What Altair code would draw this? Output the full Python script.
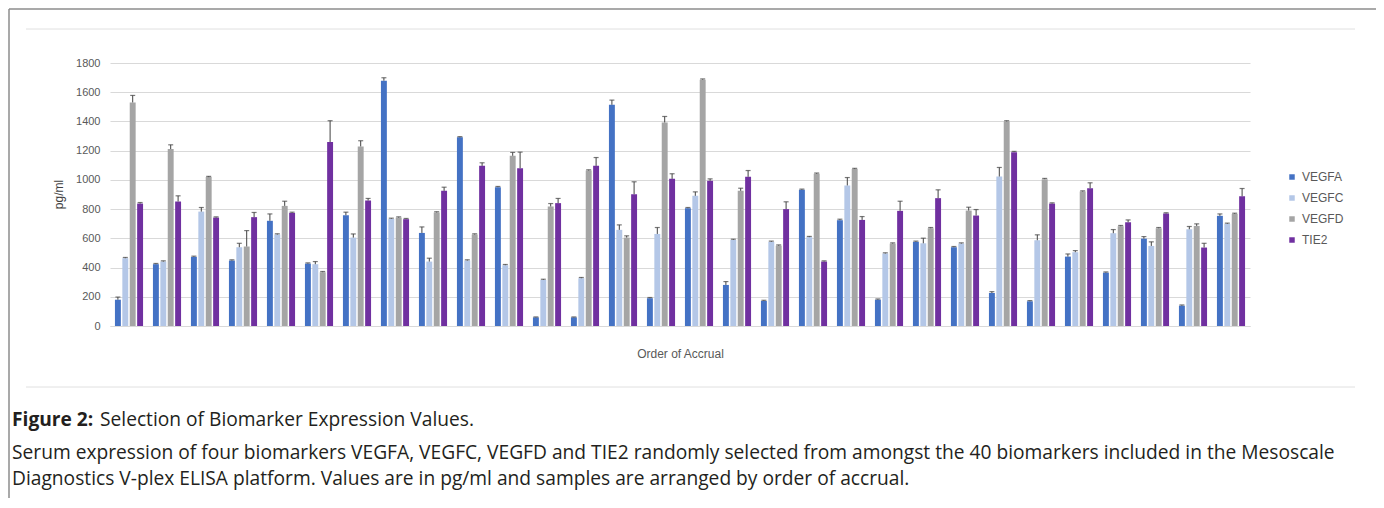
import altair as alt
import pandas as pd

samples = list(range(1, 31))
markers = ["VEGFA", "VEGFC", "VEGFD", "TIE2"]
colors = ["#4472C4", "#B4C7E7", "#A5A5A5", "#7030A0"]

vegfa = [180, 423, 473, 448, 720, 427, 758, 1679, 637, 1291, 950, 59, 59, 1514, 190,
         806, 281, 171, 932, 724, 180, 576, 539, 226, 169, 475, 365, 598, 139, 754]
vegfc = [464, 441, 783, 539, 626, 423, 605, 733, 441, 448, 416, 315, 327, 658, 630,
         891, 589, 576, 608, 962, 496, 566, 564, 1023, 587, 505, 635, 548, 662, 699]
vegfd = [1530, 1211, 1019, 544, 822, 368, 1229, 742, 777, 626, 1165, 818, 1064, 605, 1393,
         1686, 925, 550, 1042, 1074, 564, 669, 790, 1400, 1005, 920, 683, 669, 685, 767]
tie2 = [838, 852, 742, 745, 774, 1259, 859, 731, 925, 1096, 1080, 841, 1096, 902, 1007,
        994, 1021, 800, 441, 726, 788, 875, 756, 1190, 838, 943, 710, 770, 537, 888]

err_vegfa = [18, 5, 5, 5, 47, 5, 21, 20, 41, 5, 5, 3, 3, 32, 5,
             5, 23, 5, 5, 7, 5, 5, 5, 9, 5, 18, 5, 14, 5, 13]
err_vegfc = [5, 5, 28, 27, 5, 18, 25, 5, 23, 5, 5, 5, 5, 34, 44,
             27, 5, 5, 5, 54, 5, 35, 5, 62, 37, 11, 25, 28, 19, 5]
err_vegfd = [48, 29, 5, 109, 32, 5, 39, 5, 5, 5, 23, 20, 5, 12, 41,
             5, 18, 5, 5, 5, 5, 5, 23, 5, 5, 5, 5, 5, 14, 5]
err_tie2 = [7, 39, 5, 32, 5, 146, 14, 5, 25, 21, 110, 32, 57, 85, 35,
            13, 43, 50, 5, 23, 66, 57, 41, 5, 5, 37, 16, 5, 29, 53]

y_ticks = list(range(0, 1801, 200))

caption_bold = "Figure 2:"
caption_title = "Selection of Biomarker Expression Values."
caption_line1 = ("Serum expression of four biomarkers VEGFA, VEGFC, VEGFD and TIE2 randomly selected "
                 "from amongst the 40 biomarkers included in the Mesoscale")
caption_line2 = ("Diagnostics V-plex ELISA platform. Values are in pg/ml and samples are arranged "
                 "by order of accrual.")

series = {"VEGFA": (vegfa, err_vegfa), "VEGFC": (vegfc, err_vegfc),
          "VEGFD": (vegfd, err_vegfd), "TIE2": (tie2, err_tie2)}
rows = []
for i, s in enumerate(samples):
    for m in markers:
        v, e = series[m]
        rows.append({"sample": s, "marker": m, "value": v[i], "top": v[i] + e[i]})
df = pd.DataFrame(rows)

W, H = 1140, 263
LABEL_FONT = "Liberation Sans"
CAP_FONT = "Open Sans"
CAP_SIZE = 19.2

x = alt.X("sample:O", scale=alt.Scale(paddingInner=0.26, paddingOuter=0.13),
          axis=alt.Axis(labels=False, ticks=False, title="Order of Accrual",
                        domainColor="#d9d9d9", titlePadding=22, titleFontSize=12,
                        titleFontWeight="normal", titleColor="#595959", titleFont=LABEL_FONT))
xo = alt.XOffset("marker:N", sort=markers, scale=alt.Scale(domain=markers, paddingInner=0.2))
y_axis = alt.Axis(values=y_ticks, format="d", labelOverlap=False, title="pg/ml", grid=True,
                  gridColor="#d9d9d9", domain=False, ticks=False, labelPadding=10,
                  labelFontSize=11, labelColor="#595959", labelFont=LABEL_FONT,
                  titleFontSize=12, titleFontWeight="normal", titleColor="#404040",
                  titleFont=LABEL_FONT, titleX=-45, titleY=131)
y_scale = alt.Scale(domain=[0, 1800])

bars = alt.Chart(df).mark_bar().encode(
    x=x, xOffset=xo, y=alt.Y("value:Q", scale=y_scale, axis=y_axis),
    color=alt.Color("marker:N", scale=alt.Scale(domain=markers, range=colors),
                    legend=alt.Legend(title=None, orient="none", legendX=1176, legendY=108,
                                      symbolType="square", symbolSize=30, labelFontSize=12,
                                      labelColor="#595959", labelFont=LABEL_FONT,
                                      rowPadding=9, symbolStrokeWidth=0)))
rules = alt.Chart(df).mark_rule(color="#404040", strokeWidth=1).encode(
    x=x, xOffset=xo, y=alt.Y("value:Q", scale=y_scale, axis=y_axis), y2="top:Q")
caps = alt.Chart(df).mark_tick(color="#404040", thickness=1.2, size=5, orient="horizontal").encode(
    x=x, xOffset=xo, y=alt.Y("top:Q", scale=y_scale, axis=y_axis))

one = pd.DataFrame({"k": [0]})
FRAME = "#8c8c8c"
frame_top = alt.Chart(one).mark_rule(color=FRAME, strokeWidth=1.5).encode(
    x=alt.value(-101), x2=alt.value(1268), y=alt.value(-54))
frame_left = alt.Chart(one).mark_rule(color=FRAME, strokeWidth=1.5).encode(
    x=alt.value(-101), y=alt.value(-54), y2=alt.value(460))
frame_right = alt.Chart(one).mark_rule(color=FRAME, strokeWidth=1.5).encode(
    x=alt.value(1268), y=alt.value(-54), y2=alt.value(460))
top_line = alt.Chart(one).mark_rule(color="#e0e0e0", strokeWidth=1).encode(
    x=alt.value(-84), x2=alt.value(1245), y=alt.value(-34))
sep_line = alt.Chart(one).mark_rule(color="#e0e0e0", strokeWidth=1).encode(
    x=alt.value(-84), x2=alt.value(1245), y=alt.value(324))


def txt(t, xv, yv, size, bold=False):
    return alt.Chart(pd.DataFrame({"t": [t]})).mark_text(
        align="left", baseline="middle", font=CAP_FONT, fontSize=size,
        fontWeight="bold" if bold else "normal", color="#231f20").encode(
        x=alt.value(xv), y=alt.value(yv), text="t:N")


texts = [txt(caption_bold, -98, 357, CAP_SIZE, True), txt(caption_title, -10, 357, CAP_SIZE),
         txt(caption_line1, -98, 390, CAP_SIZE), txt(caption_line2, -98, 416, CAP_SIZE)]

chart = alt.layer(frame_top, frame_left, frame_right, top_line, sep_line,
                  bars, rules, caps, *texts).properties(
    width=W, height=H, autosize=alt.AutoSizeParams(type="none"),
    padding={"left": 102, "top": 55, "right": 126, "bottom": 172}
).configure_view(stroke=None)

chart.save("out.html", embed_options={"renderer": "svg", "actions": False})
